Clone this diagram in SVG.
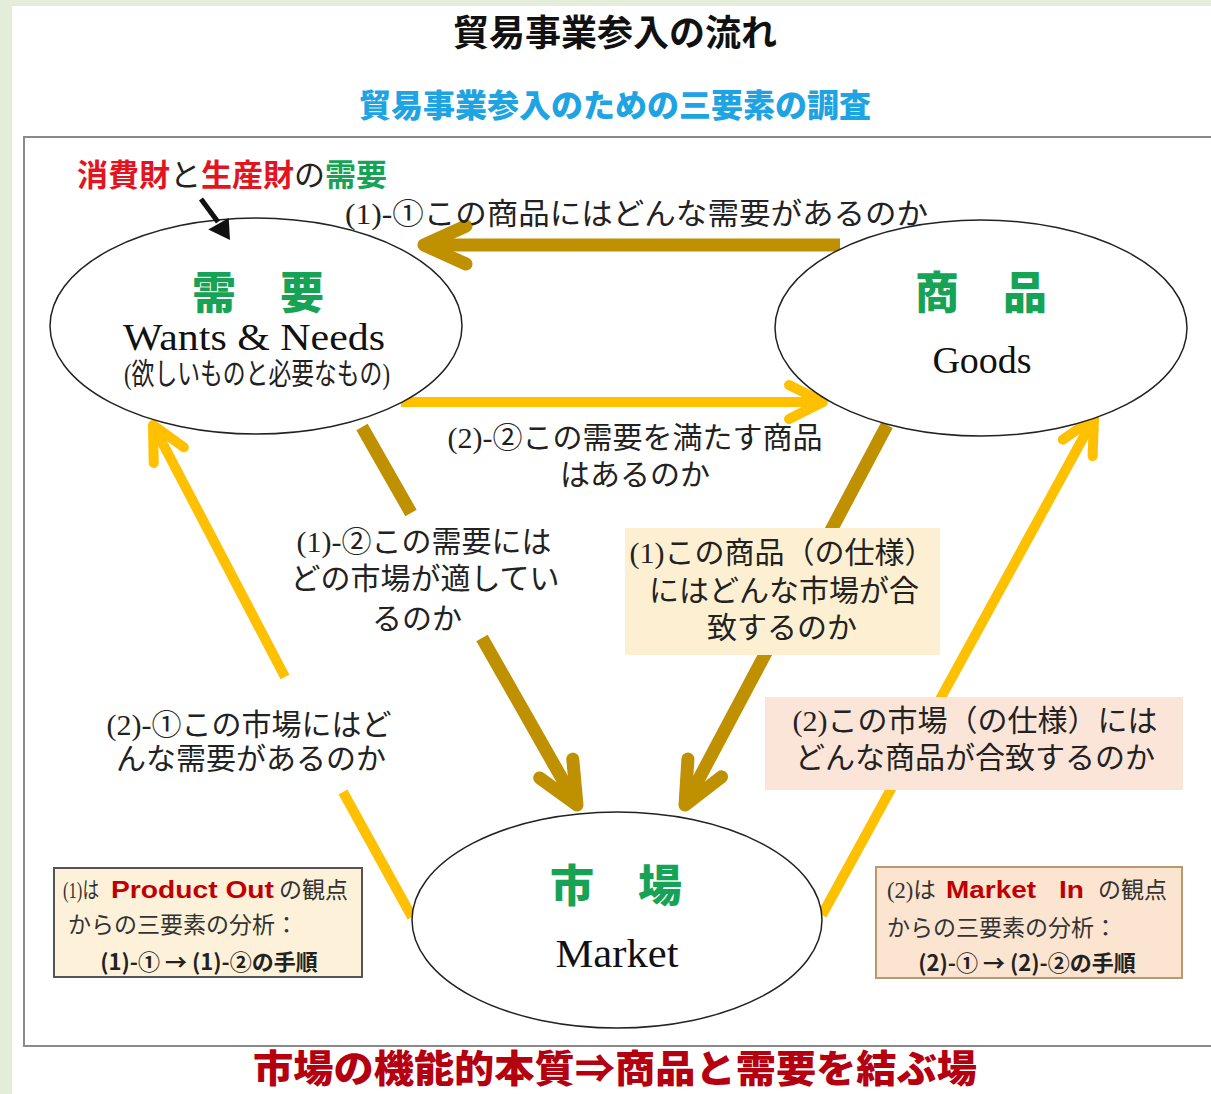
<svg xmlns="http://www.w3.org/2000/svg" width="1211" height="1094" viewBox="0 0 1211 1094">
<style>
.jp{font-family:"Noto Sans CJK JP","Noto Sans",sans-serif}
.lbl{font-family:"Liberation Serif","Noto Sans CJK JP",serif;font-size:30px;fill:#222}
.en{font-family:"Liberation Serif","DejaVu Serif",serif;fill:#111}
.big{font-family:"Noto Sans CJK JP",sans-serif;font-weight:900;font-size:44px;fill:#17a356}
.bx{font-family:"Liberation Serif","Noto Sans CJK JP",serif;font-size:23px;fill:#333}
.bxb{font-family:"Noto Sans CJK JP",sans-serif;font-weight:700;font-size:22px;fill:#222}
.po{font-family:"Liberation Sans",Arial,sans-serif;font-weight:700;font-size:23px;fill:#c00000}
.ell{fill:#fff;stroke:#222;stroke-width:1.5}
.dk{fill:none;stroke:#bf9000;stroke-width:13}
.yl{fill:none;stroke:#ffc000;stroke-width:10}
</style>
<defs>
<marker id="hd" markerUnits="userSpaceOnUse" orient="auto" markerWidth="1" markerHeight="1" refX="0" refY="0" overflow="visible">
<path d="M -42 -19 L 0 0 L -42 19" fill="none" stroke="#bf9000" stroke-width="13" stroke-linecap="round" stroke-linejoin="round"/>
</marker>
<marker id="hy" markerUnits="userSpaceOnUse" orient="auto" markerWidth="1" markerHeight="1" refX="0" refY="0" overflow="visible">
<path d="M -34 -17 L 0 0 L -34 17" fill="none" stroke="#ffc000" stroke-width="10" stroke-linecap="round" stroke-linejoin="round"/>
</marker>
</defs>
<rect x="0" y="0" width="1211" height="1094" fill="#e3edda"/>
<rect x="12" y="6" width="1199" height="1088" fill="#fff"/>
<rect x="24" y="137" width="1200" height="909" fill="#fff" stroke="#8a8a8a" stroke-width="2"/>

<g id="title">
<text x="615" y="46" text-anchor="middle" class="jp" font-size="36" font-weight="700" fill="#111">貿易事業参入の流れ</text>
<text x="615" y="117" text-anchor="middle" class="jp" font-size="32" font-weight="900" fill="#1ea3e3">貿易事業参入のための三要素の調査</text>
</g>

<g id="connectors">
<path class="dk" d="M 840 245 L 424 245" marker-end="url(#hd)"/>
<path class="yl" d="M 401 402 L 823 402" marker-end="url(#hy)"/>
<path class="dk" d="M 362 427 L 411 513"/>
<path class="dk" d="M 482 638 L 577 805" marker-end="url(#hd)"/>
<path class="dk" d="M 887 425 L 685 805" marker-end="url(#hd)"/>
<path class="yl" d="M 412 917 L 343 792"/>
<path class="yl" d="M 285 677 L 153 425" marker-end="url(#hy)"/>
<path class="yl" d="M 822 915 L 1094 418" marker-end="url(#hy)"/>
</g>

<g id="node-demand">
<ellipse class="ell" cx="256" cy="326" rx="206" ry="108"/>
<text x="258" y="309" text-anchor="middle" class="big">需　要</text>
<text x="254" y="350" text-anchor="middle" class="en" font-size="38" textLength="262" lengthAdjust="spacingAndGlyphs">Wants &amp; Needs</text>
<text x="257" y="384" text-anchor="middle" class="lbl" font-size="22" textLength="266" lengthAdjust="spacingAndGlyphs">(欲しいものと必要なもの)</text>
</g>

<g id="node-goods">
<ellipse class="ell" cx="981" cy="328" rx="206" ry="108"/>
<text x="981" y="309" text-anchor="middle" class="big">商　品</text>
<text x="982" y="373" text-anchor="middle" class="en" font-size="38">Goods</text>
</g>

<g id="node-market">
<ellipse class="ell" cx="617" cy="920" rx="205" ry="108"/>
<text x="616" y="902" text-anchor="middle" class="big">市　場</text>
<text x="617" y="967" text-anchor="middle" class="en" font-size="40" textLength="123" lengthAdjust="spacingAndGlyphs">Market</text>
</g>

<g id="note-top">
<text x="77" y="186" class="jp" font-size="31"><tspan fill="#e3141e" font-weight="700">消費財</tspan><tspan fill="#222">と</tspan><tspan fill="#e3141e" font-weight="700">生産財</tspan><tspan fill="#222">の</tspan><tspan fill="#17a356" font-weight="700">需要</tspan></text>
<path d="M 201 199 L 218 222" stroke="#111" stroke-width="5" fill="none"/>
<polygon points="230,240 208.3,229.5 228.7,217.9" fill="#111"/>
</g>

<g id="label-1-1">
<text x="345" y="224" class="lbl" textLength="583" lengthAdjust="spacingAndGlyphs">(1)-①この商品にはどんな需要があるのか</text>
</g>
<g id="label-2-2">
<text x="635" y="448" text-anchor="middle" class="lbl">(2)-②この需要を満たす商品</text>
<text x="635" y="485" text-anchor="middle" class="lbl">はあるのか</text>
</g>
<g id="label-1-2">
<text x="424" y="552" text-anchor="middle" class="lbl">(1)-②この需要には</text>
<text x="425" y="589" text-anchor="middle" class="lbl">どの市場が適してい</text>
<text x="372" y="629" class="lbl">るのか</text>
</g>
<g id="label-2-1">
<text x="249" y="735" text-anchor="middle" class="lbl">(2)-①この市場にはど</text>
<text x="251" y="769" text-anchor="middle" class="lbl">んな需要があるのか</text>
</g>
<g id="label-1">
<rect x="625" y="528" width="315" height="127" fill="#fdf0d2"/>
<text x="782" y="563" text-anchor="middle" class="lbl">(1)この商品（の仕様）</text>
<text x="784" y="601" text-anchor="middle" class="lbl">にはどんな市場が合</text>
<text x="782" y="638" text-anchor="middle" class="lbl">致するのか</text>
</g>
<g id="label-2">
<rect x="765" y="697" width="418" height="93" fill="#fbe5d8"/>
<text x="975" y="731" text-anchor="middle" class="lbl">(2)この市場（の仕様）には</text>
<text x="975" y="768" text-anchor="middle" class="lbl">どんな商品が合致するのか</text>
</g>

<g id="box-product-out">
<rect x="54" y="868" width="308" height="109" fill="#fdf2d9" stroke="#555" stroke-width="2"/>
<text x="63" y="898" class="bx" font-size="21" textLength="36" lengthAdjust="spacingAndGlyphs">(1)は</text>
<text x="111" y="898" class="po" textLength="163" lengthAdjust="spacingAndGlyphs">Product Out</text>
<text x="279" y="898" class="bx">の観点</text>
<text x="68" y="933" class="bx">からの三要素の分析：</text>
<text x="209" y="970" text-anchor="middle" class="bxb">(1)-① → (1)-②の手順</text>
</g>

<g id="box-market-in">
<rect x="876" y="867" width="306" height="111" fill="#fbe4d0" stroke="#b59a70" stroke-width="2"/>
<text x="887" y="898" class="bx" textLength="49" lengthAdjust="spacingAndGlyphs">(2)は</text>
<text x="946" y="898" class="po" textLength="90" lengthAdjust="spacingAndGlyphs">Market</text>
<text x="1059" y="898" class="po" textLength="25" lengthAdjust="spacingAndGlyphs">In</text>
<text x="1098" y="898" class="bx">の観点</text>
<text x="887" y="936" class="bx">からの三要素の分析：</text>
<text x="1027" y="971" text-anchor="middle" class="bxb">(2)-① → (2)-②の手順</text>
</g>

<g id="footer">
<text x="615" y="1082" text-anchor="middle" class="jp" font-size="38" font-weight="900" fill="#b5000f" textLength="724" lengthAdjust="spacingAndGlyphs">市場の機能的本質⇒商品と需要を結ぶ場</text>
</g>
</svg>
